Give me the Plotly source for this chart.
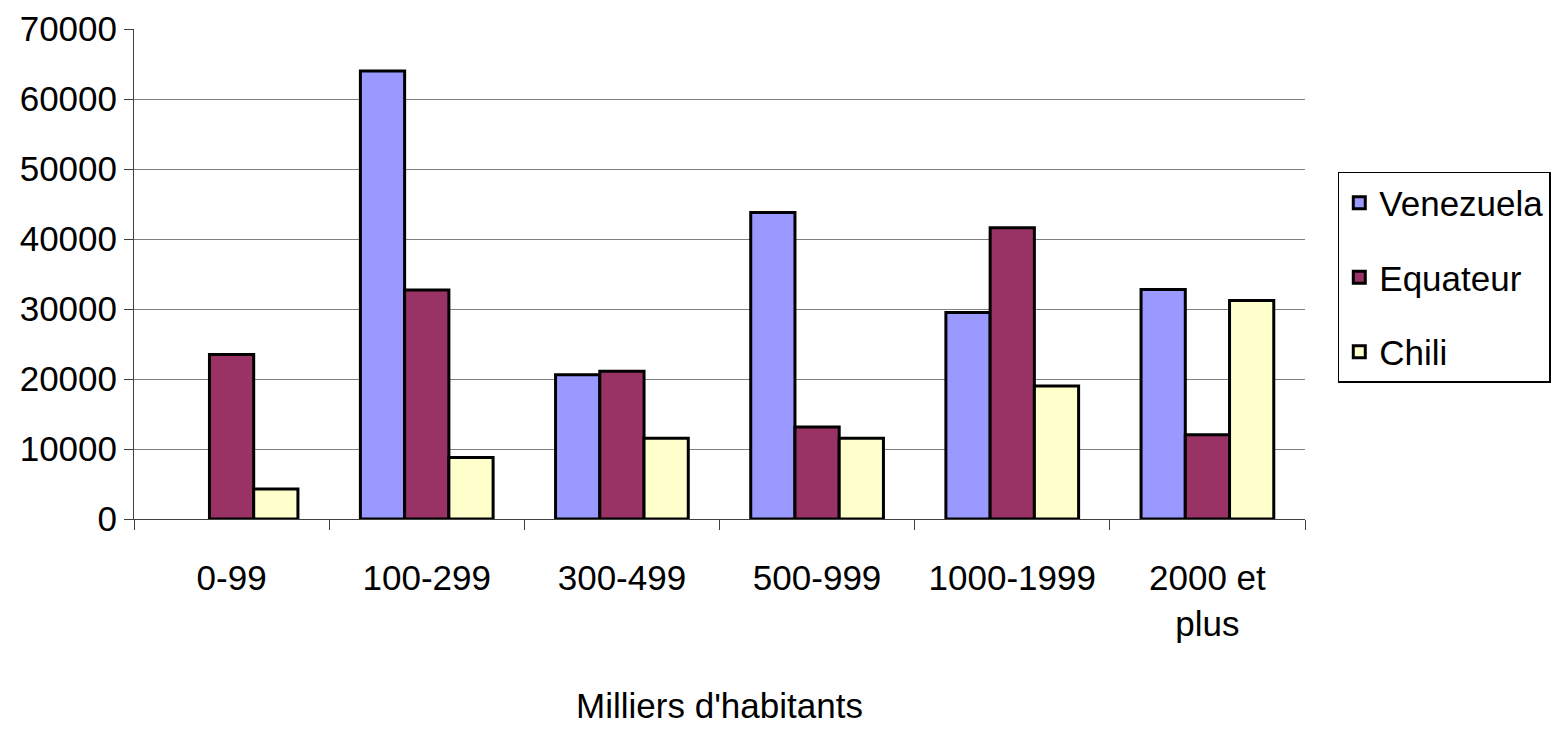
import plotly.graph_objects as go

categories = ["0-99", "100-299", "300-499", "500-999", "1000-1999", "2000 et<br>plus"]
venezuela = [None, 64000, 20600, 43800, 29500, 32800]
equateur = [23500, 32700, 21100, 13150, 41600, 12050]
chili = [4300, 8800, 11550, 11550, 19000, 31200]
series_names = ["Venezuela", "Equateur", "Chili"]
colors = ["#9999FF", "#993366", "#FFFFCC"]
y_ticks = [0, 10000, 20000, 30000, 40000, 50000, 60000, 70000]

FONT = "Liberation Sans, Arial, sans-serif"

fig = go.Figure()
for i, (name, vals) in enumerate(zip(series_names, [venezuela, equateur, chili])):
    fig.add_trace(go.Bar(
        x=categories, y=vals, name=name, legendgroup=name,
        marker=dict(color=colors[i], line=dict(color="black", width=3)),
    ))

fig.update_layout(
    width=1545, height=717,
    paper_bgcolor="white", plot_bgcolor="white",
    margin=dict(l=126, r=248, t=21, b=206, autoexpand=False),
    barmode="group", bargap=0.32, bargroupgap=0,
    font=dict(family=FONT, size=35, color="black"),
    showlegend=True,
    legend=dict(
        x=1.028, xanchor="left", y=0.493, yanchor="middle",
        bordercolor="black", borderwidth=1.5, bgcolor="white",
        font=dict(size=35, family=FONT), tracegroupgap=26,
        traceorder="grouped",
    ),
)
fig.update_yaxes(
    range=[0, 70000], tickvals=y_ticks, ticktext=[str(v) for v in y_ticks],
    showgrid=True, gridcolor="#808080", gridwidth=1,
    showline=True, linecolor="#404040", linewidth=1,
    ticks="outside", ticklen=9, tickcolor="#404040",
    zeroline=False, tickfont=dict(size=35), automargin=False,
)
fig.update_xaxes(
    showline=True, linecolor="#404040", linewidth=1,
    ticks="outside", ticklen=10, tickcolor="#404040",
    tickson="boundaries", showgrid=False,
    tickfont=dict(size=35), ticklabelstandoff=28, automargin=False,
    title=dict(text="Milliers d'habitants", font=dict(size=35), standoff=68),
)

fig.write_html("out.html")
